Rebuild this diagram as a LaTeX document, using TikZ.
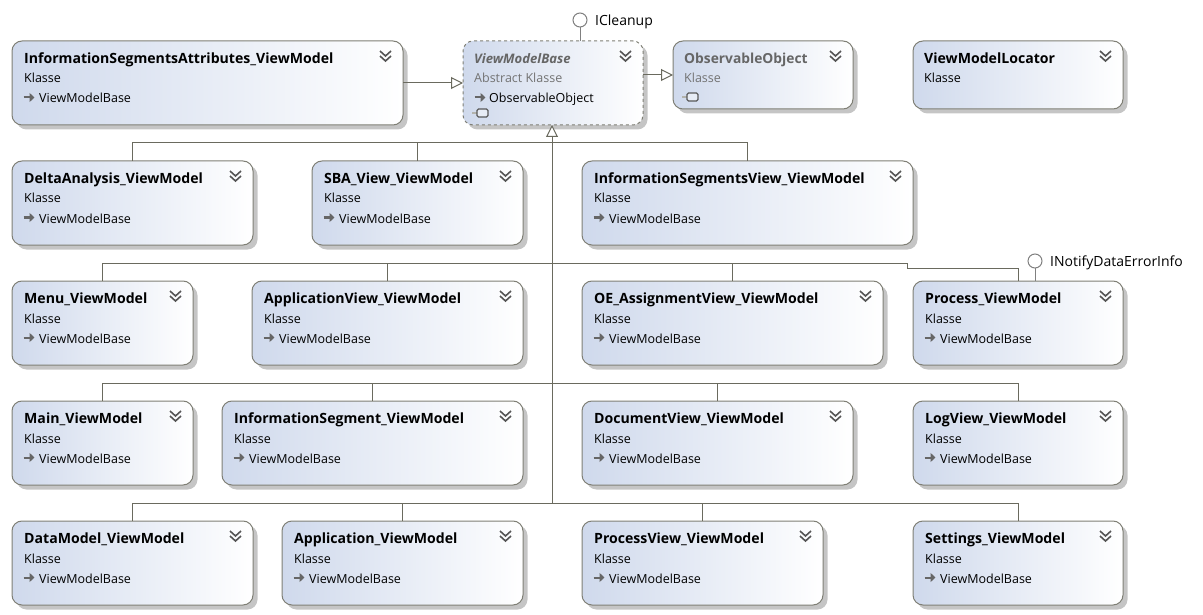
\documentclass[tikz,border=0pt]{standalone}
\usepackage{fontspec}
\setmainfont{Open Sans}
\usetikzlibrary{positioning,arrows.meta,calc,shadows}
\definecolor{boxleft}{HTML}{CFD9EC}
\definecolor{boxline}{HTML}{7F7F75}
\definecolor{wire}{HTML}{6A6A5E}
\definecolor{chevron}{HTML}{555555}

\begin{document}
\begin{tikzpicture}[
    x=1pt,y=-1pt,
    classbox/.style={rectangle,draw=boxline,line width=1pt,rounded corners=10pt,inner sep=0pt,outer sep=0pt,
        anchor=north west,minimum height=84,left color=boxleft,right color=white,
        drop shadow={shadow xshift=4.5pt,shadow yshift=-4.5pt,fill=black!45,opacity=0.5}},
    title/.style={anchor=base west,inner sep=0pt,font=\fontsize{14.1}{16}\selectfont\bfseries},
    info/.style={anchor=base west,inner sep=0pt,font=\fontsize{12.5}{14}\selectfont},
    wireline/.style={draw=wire,line width=1pt},
    inherit/.style={wireline,-{Triangle[open,fill=white,length=12pt,width=12pt]}},
    lollipop/.style={circle,draw=gray,fill=white,line width=1pt,minimum size=14pt,inner sep=0pt,outer sep=0pt},
    stem/.style={draw=gray,line width=1pt},
    chevronline/.style={draw=chevron,line width=1.6pt}
]

\useasboundingbox (0,0) rectangle (1203,615);

% double chevron at top right of a box
\def\chevrons#1{
    \foreach \d in {0,5} {
        \draw[chevronline] ($(#1.north east)+(-23,10+\d)$) -- ++(5.5,5) -- ++(5.5,-5);
    }
}
% small base class arrow
\def\basemark#1{
    \draw[black!60,line width=2pt,-{Triangle[length=5pt,width=9pt]}] ($(#1.north west)+(11.5,56.5)$) -- ++(11,0);
}
% small assembly icon
\def\assembly#1#2{
    \draw[boxline!60,line width=2pt] ($(#1.north west)+(9,#2)$) -- ++(5,0);
    \draw[black!65,fill=boxleft!50,line width=1.2pt,rounded corners=1.5pt] ($(#1.north west)+(14,#2-4)$) rectangle ++(11,8);
}

% Top row
\node[classbox,minimum width=391] (attributes) at (12,41) {};
\node[title] (attributes_title) at ($(attributes.north west)+(12,22.5)$) {InformationSegmentsAttributes\_ViewModel};
\node[info] (attributes_kind) at ($(attributes.north west)+(12,42)$) {Klasse};
\node[info] (attributes_base) at ($(attributes.north west)+(27,62)$) {ViewModelBase};
\basemark{attributes}
\chevrons{attributes}

\node[classbox,dashed,minimum width=180] (vmbase) at (463,41) {};
\node[title,font=\fontsize{13.1}{16}\selectfont\bfseries\itshape,text=black!60] (vmbase_title) at ($(vmbase.north west)+(11,22.5)$) {ViewModelBase};
\node[info,text=black!55] (vmbase_kind) at ($(vmbase.north west)+(11,42)$) {Abstract Klasse};
\node[info] (vmbase_base) at ($(vmbase.north west)+(26,62)$) {ObservableObject};
\basemark{vmbase}
\assembly{vmbase}{72}
\chevrons{vmbase}

\node[classbox,minimum width=180,minimum height=68] (observable) at (673,41) {};
\node[title,font=\fontsize{13.8}{16}\selectfont\bfseries,text=black!60] (observable_title) at ($(observable.north west)+(11,22.5)$) {ObservableObject};
\node[info,text=black!55] (observable_kind) at ($(observable.north west)+(11,42)$) {Klasse};
\assembly{observable}{56}
\chevrons{observable}

\node[classbox,minimum width=210,minimum height=68] (locator) at (913,41) {};
\node[title] (locator_title) at ($(locator.north west)+(11,22.5)$) {ViewModelLocator};
\node[info] (locator_kind) at ($(locator.north west)+(11,42)$) {Klasse};
\chevrons{locator}

% Bus line of each row
\coordinate (bus161) at (552,143);
\coordinate (bus281) at (552,263);
\coordinate (bus401) at (552,383);
\coordinate (bus521) at (552,503);
\coordinate (jog) at (907,268);

% Derived classes
\foreach \n/\xl/\xr/\yt/\t in {
    delta/12/253/161/DeltaAnalysis\_ViewModel,
    sba/312/523/161/SBA\_View\_ViewModel,
    segmentsview/582/913/161/InformationSegmentsView\_ViewModel,
    menu/12/193/281/Menu\_ViewModel,
    applicationview/252/523/281/ApplicationView\_ViewModel,
    assignment/582/883/281/OE\_AssignmentView\_ViewModel,
    process/913/1123/281/Process\_ViewModel,
    main/12/193/401/Main\_ViewModel,
    segment/222/523/401/InformationSegment\_ViewModel,
    documentview/582/853/401/DocumentView\_ViewModel,
    logview/913/1123/401/LogView\_ViewModel,
    datamodel/12/253/521/DataModel\_ViewModel,
    application/282/523/521/Application\_ViewModel,
    processview/582/823/521/ProcessView\_ViewModel,
    settings/913/1123/521/Settings\_ViewModel%
} {
    \node[classbox,minimum width=\xr-\xl] (\n) at (\xl,\yt) {};
    \node[title] (\n_title) at ($(\n.north west)+(12,22.5)$) {\t};
    \node[info] (\n_kind) at ($(\n.north west)+(12,42)$) {Klasse};
    \node[info] (\n_base) at ($(\n.north west)+(27,62)$) {ViewModelBase};
    \basemark{\n}
    \chevrons{\n}
    % Process has its own bend
    \ifnum \xl=913 \ifnum \yt=281 \else
        \draw[wireline] (\n.north) |- (bus\yt);
    \fi \else
        \draw[wireline] (\n.north) |- (bus\yt);
    \fi
}
\draw[wireline] (process.north) |- (jog) -- (jog |- bus281) -- (bus281);

% Inheritance arrows
\draw[inherit] (bus521) -- (bus521 |- vmbase.south);
\draw[inherit] (attributes) -- (vmbase);
\draw[inherit] (vmbase.east |- observable.west) -- (observable.west);

% Interfaces
\node[lollipop] (cleanup) at (580,20) {};
\node[info,font=\fontsize{14}{16}\selectfont,right=8pt of cleanup,yshift=-2pt] (cleanup_label) {ICleanup};
\draw[stem] (cleanup) -- (cleanup |- vmbase.north);

\node[lollipop] (notify) at (1035,261) {};
\node[info,font=\fontsize{14}{16}\selectfont,right=8pt of notify,yshift=-2pt] (notify_label) {INotifyDataErrorInfo};
\draw[stem] (notify) -- (notify |- process.north);

\end{tikzpicture}
\end{document}
